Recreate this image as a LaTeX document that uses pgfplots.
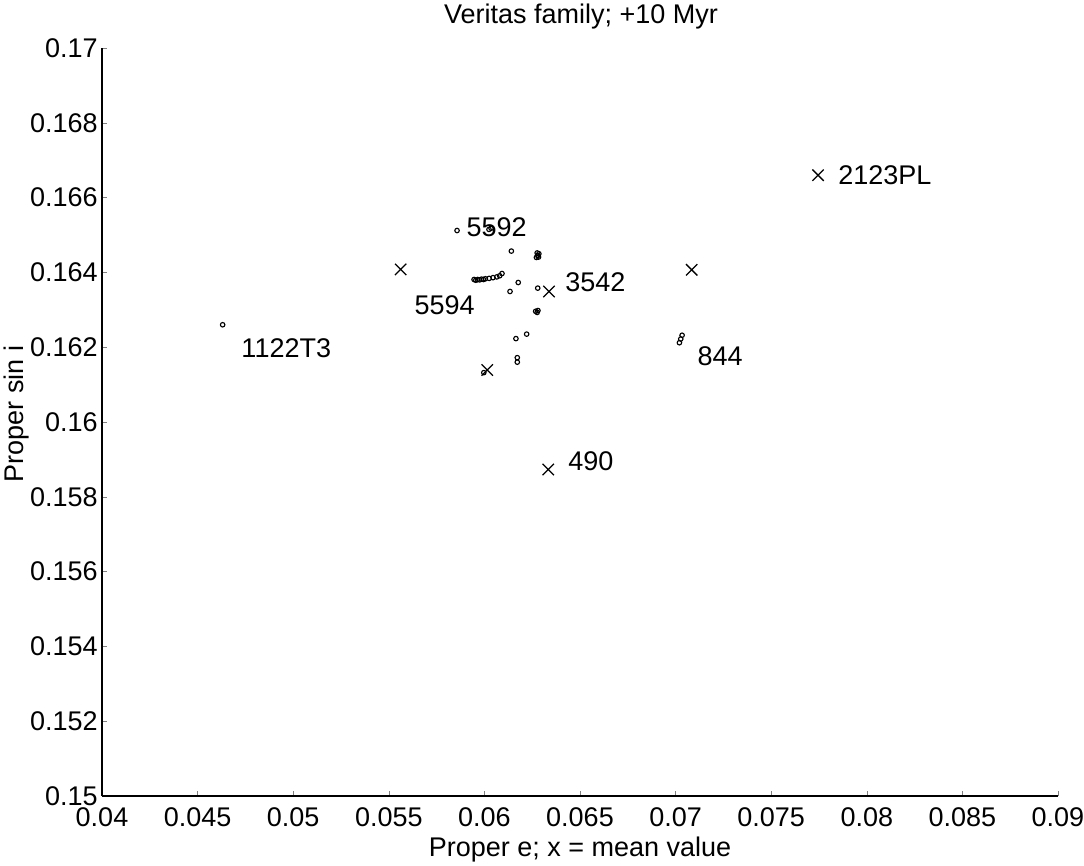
\documentclass[border=0pt]{standalone}
\usepackage{fontspec}
\setmainfont{Liberation Sans}
\usepackage{pgfplots}
\pgfplotsset{compat=1.18}
\begin{document}
\begin{tikzpicture}
\path[use as bounding box] (-40.8pt,-27.6pt) rectangle (392.8pt,318.4pt);
\begin{axis}[
  name=ax,
  scale only axis,
  width=382.4pt, height=299.2pt,
  xmin=0.04, xmax=0.09, ymin=0.15, ymax=0.17,
  axis x line=bottom, axis y line=left,
  axis line style={-, line width=0.5pt},
  tick align=inside,
  major tick length=2.2pt,
  xtick={0.04,0.045,...,0.0901},
  ytick={0.15,0.152,...,0.1701},
  scaled ticks=false,
  /pgf/number format/assume math mode=true,
  xticklabel={\pgfmathprintnumber[fixed,precision=3]{\tick}},
  yticklabel={\pgfmathprintnumber[fixed,precision=3]{\tick}},
  tick label style={font=\fontsize{10.8}{13}\selectfont},
  xticklabel style={yshift=-1.2pt},
  yticklabel style={xshift=1.8pt},
  clip=false,
]
% individual orbit element points (small circles)
\addplot[only marks, mark=o, mark size=0.9pt, line width=0.45pt, black] coordinates {
(0.04631,0.16260)
(0.05857,0.16512)
(0.06024,0.16515)(0.06035,0.16518)
(0.06141,0.16457)
(0.06272,0.16440)(0.06279,0.16445)(0.06285,0.16450)(0.06276,0.16452)(0.06283,0.16441)
(0.05946,0.16381)(0.05965,0.16381)(0.05985,0.16382)(0.06005,0.16383)(0.06025,0.16384)(0.06045,0.16386)(0.06065,0.16388)(0.06080,0.16391)(0.06092,0.16397)
(0.05955,0.16379)(0.05975,0.16380)(0.05995,0.16381)
(0.06177,0.16373)
(0.06134,0.16349)
(0.06279,0.16358)
(0.06268,0.16296)(0.06276,0.16293)(0.06280,0.16298)
(0.06165,0.16223)
(0.06221,0.16235)
(0.06172,0.16172)(0.06172,0.16160)
(0.05997,0.16132)
(0.07020,0.16212)(0.07027,0.16222)(0.07034,0.16232)
};
% mean values (crosses)
\addplot[only marks, mark=x, mark size=3.2pt, line width=0.5pt, black] coordinates {
(0.07745,0.16660)
(0.05562,0.16408)
(0.06338,0.16349)
(0.06015,0.16139)
(0.07084,0.16407)
(0.06334,0.15873)
};
\begin{scope}[every node/.style={font=\fontsize{10.8}{13}\selectfont, anchor=west, inner sep=0pt}]
\node at (axis cs:0.07849,0.16660) {2123PL};
\node at (axis cs:0.05904,0.16522) {5592};
\node at (axis cs:0.06421,0.16373) {3542};
\node at (axis cs:0.05632,0.16311) {5594};
\node at (axis cs:0.04727,0.16198) {1122T3};
\node at (axis cs:0.07112,0.16177) {844};
\node at (axis cs:0.06437,0.15895) {490};
\end{scope}
\end{axis}
\node[font=\fontsize{10.8}{13}\selectfont] at (191.6pt,311.8pt) {Veritas family; +10 Myr};
\node[font=\fontsize{10.8}{13}\selectfont] at (191.2pt,-21.6pt) {Proper e; x = mean value};
\node[font=\fontsize{10.8}{13}\selectfont, rotate=90] at (-34.2pt,152.8pt) {Proper sin i};
\end{tikzpicture}
\end{document}
